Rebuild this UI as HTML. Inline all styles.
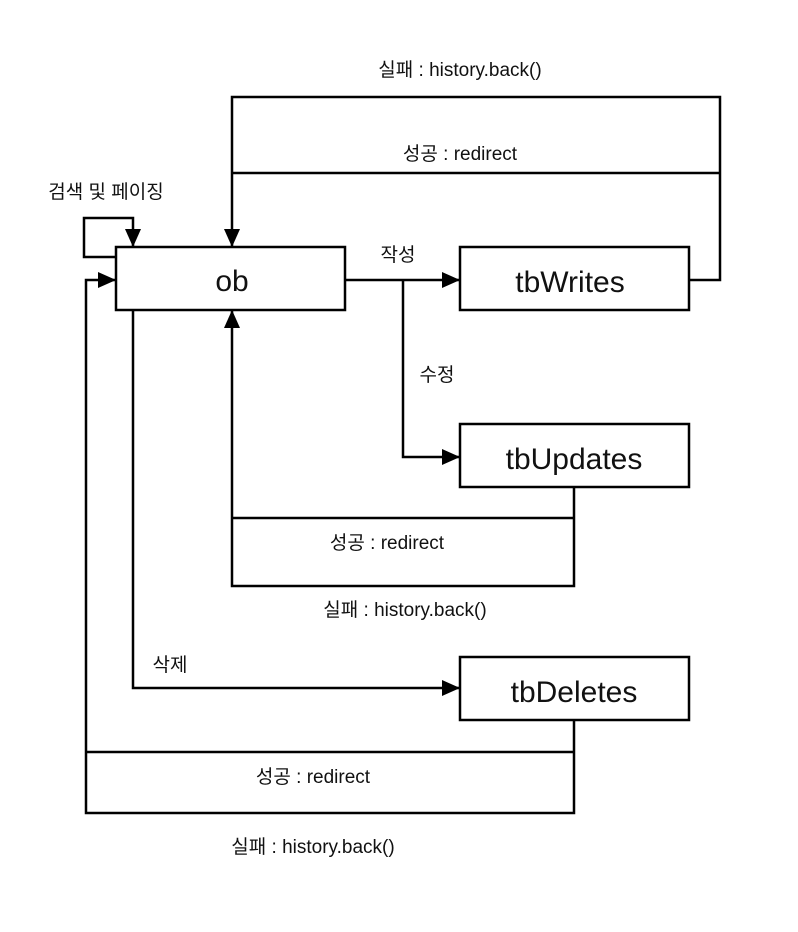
<!DOCTYPE html>
<html><head><meta charset="utf-8"><style>
html,body{margin:0;padding:0;background:#fff;}
svg{display:block;}
text{font-family:"Liberation Sans","Noto Sans CJK KR",sans-serif;fill:#111;}
</style></head><body>
<svg width="798" height="932" viewBox="0 0 798 932">
<defs>
<marker id="b" markerWidth="20" markerHeight="16" refX="18" refY="8" orient="auto" markerUnits="userSpaceOnUse"><path d="M0,0 L18,8 L0,16 z" fill="#000"/></marker></defs>
<g stroke="#000" stroke-width="2.5" fill="none">
<rect x="116" y="247" width="229" height="63"/>
<rect x="460" y="247" width="229" height="63"/>
<rect x="460" y="424" width="229" height="63"/>
<rect x="460" y="657" width="229" height="63"/>
<polyline points="689,280 720,280 720,97 232,97 232,247" marker-end="url(#b)"/>
<line x1="232" y1="173" x2="720" y2="173"/>
<polyline points="116,257 84,257 84,218 133,218 133,247" marker-end="url(#b)"/>
<line x1="345" y1="280" x2="460" y2="280" marker-end="url(#b)"/>
<polyline points="403,280 403,457 460,457" marker-end="url(#b)"/>
<polyline points="574,487 574,586 232,586 232,310" marker-end="url(#b)"/>
<line x1="232" y1="518" x2="574" y2="518"/>
<polyline points="133,310 133,688 460,688" marker-end="url(#b)"/>
<polyline points="574,720 574,813 86,813 86,280 116,280" marker-end="url(#b)"/>
<line x1="86" y1="752" x2="574" y2="752"/>
</g>
<g font-size="30" text-anchor="middle">
<text x="232" y="291">ob</text>
<text x="570" y="292">tbWrites</text>
<text x="574" y="469">tbUpdates</text>
<text x="574" y="702">tbDeletes</text>
</g>
<g font-size="19">
<text x="460" y="76" text-anchor="middle">실패 : history.back()</text>
<text x="460" y="160" text-anchor="middle">성공 : redirect</text>
<text x="106" y="198" text-anchor="middle">검색 및 페이징</text>
<text x="398" y="261" text-anchor="middle">작성</text>
<text x="437" y="381" text-anchor="middle">수정</text>
<text x="387" y="549" text-anchor="middle">성공 : redirect</text>
<text x="405" y="616" text-anchor="middle">실패 : history.back()</text>
<text x="170" y="671" text-anchor="middle">삭제</text>
<text x="313" y="783" text-anchor="middle">성공 : redirect</text>
<text x="313" y="853" text-anchor="middle">실패 : history.back()</text>
</g>
</svg>
</body></html>
